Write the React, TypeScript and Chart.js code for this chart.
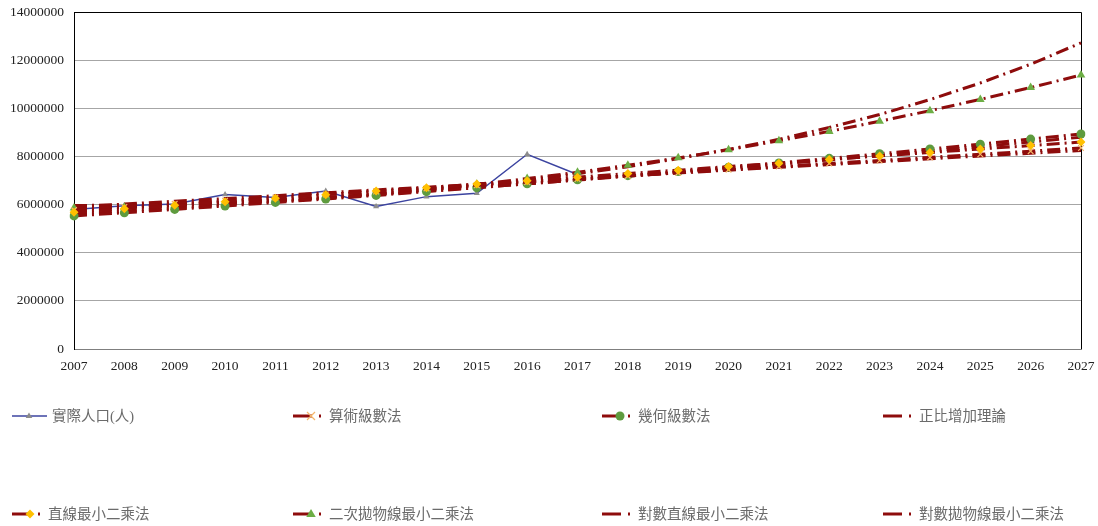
import React, { useEffect, useRef } from 'react';
import { Chart, registerables } from 'chart.js';

Chart.register(...registerables);

const years = ['2007','2008','2009','2010','2011','2012','2013','2014','2015','2016','2017','2018','2019','2020','2021','2022','2023','2024','2025','2026','2027'];

const actualPop = [5800000, 5950000, 6020000, 6420000, 6290000, 6560000, 5920000, 6330000, 6470000, 8090000, 7250000, null, null, null, null, null, null, null, null, null, null];
const arithmetic = [5770000, 5900000, 6030000, 6160000, 6290000, 6420000, 6540000, 6670000, 6800000, 6930000, 7060000, 7190000, 7320000, 7450000, 7580000, 7710000, 7830000, 7960000, 8090000, 8220000, 8350000];
const geometric = [5530000, 5660000, 5800000, 5940000, 6090000, 6230000, 6380000, 6540000, 6700000, 6860000, 7030000, 7200000, 7370000, 7550000, 7730000, 7920000, 8110000, 8310000, 8510000, 8720000, 8930000];
const proportional = [5900000, 6020000, 6140000, 6250000, 6370000, 6490000, 6610000, 6720000, 6840000, 6960000, 7080000, 7190000, 7310000, 7430000, 7550000, 7660000, 7780000, 7900000, 8020000, 8130000, 8250000];
const linearLS = [5680000, 5830000, 5970000, 6120000, 6260000, 6410000, 6560000, 6700000, 6850000, 6990000, 7140000, 7290000, 7430000, 7580000, 7720000, 7870000, 8020000, 8160000, 8310000, 8450000, 8600000];
const quadraticLS = [5860000, 5890000, 5950000, 6040000, 6150000, 6280000, 6440000, 6630000, 6840000, 7080000, 7340000, 7630000, 7940000, 8280000, 8650000, 9040000, 9460000, 9900000, 10370000, 10860000, 11380000];
const logLinearLS = [5600000, 5730000, 5860000, 5990000, 6130000, 6270000, 6410000, 6560000, 6710000, 6860000, 7020000, 7180000, 7340000, 7510000, 7680000, 7860000, 8040000, 8220000, 8410000, 8600000, 8800000];
const logParabolaLS = [5960000, 5980000, 6030000, 6090000, 6180000, 6300000, 6430000, 6600000, 6790000, 7020000, 7280000, 7570000, 7910000, 8290000, 8710000, 9200000, 9740000, 10360000, 11050000, 11830000, 12720000];

const seriesNames = ['實際人口(人)', '算術級數法', '幾何級數法', '正比增加理論', '直線最小二乘法', '二次拋物線最小二乘法', '對數直線最小二乘法', '對數拋物線最小二乘法'];
const yTicks = [0, 2000000, 4000000, 6000000, 8000000, 10000000, 12000000, 14000000];

const RED = '#8E0C0C';
const BLUE = '#3C44A0';
const DASH = [13, 5, 2, 5];
const SERIF = '"Liberation Serif", "Times New Roman", "Noto Sans CJK TC", serif';
const LEGEND_FONT = '"Liberation Serif", "Noto Sans CJK TC", serif';

type Mk = { style: string; r: number; fill: string; stroke: string };
const markers: Mk[] = [
  { style: 'triangle', r: 3.5, fill: '#8C8C8C', stroke: '#8C8C8C' },
  { style: 'crossRot', r: 4, fill: '#F5B66A', stroke: '#F5B66A' },
  { style: 'circle', r: 4.5, fill: '#5E9B3E', stroke: '#5E9B3E' },
  { style: 'none', r: 0, fill: RED, stroke: RED },
  { style: 'rectRot', r: 4.5, fill: '#FFC000', stroke: '#FFC000' },
  { style: 'triangle', r: 5, fill: '#6DAE45', stroke: '#6DAE45' },
  { style: 'none', r: 0, fill: RED, stroke: RED },
  { style: 'none', r: 0, fill: RED, stroke: RED },
];

function drawMarker(ctx: CanvasRenderingContext2D, m: Mk, x: number, y: number) {
  if (m.style === 'none') return;
  const r = m.r;
  ctx.save();
  ctx.fillStyle = m.fill;
  ctx.strokeStyle = m.stroke;
  ctx.lineWidth = 1.2;
  ctx.beginPath();
  if (m.style === 'circle') {
    ctx.arc(x, y, r, 0, Math.PI * 2);
    ctx.fill();
  } else if (m.style === 'triangle') {
    ctx.moveTo(x, y - r);
    ctx.lineTo(x + r * 0.95, y + r * 0.6);
    ctx.lineTo(x - r * 0.95, y + r * 0.6);
    ctx.closePath();
    ctx.fill();
  } else if (m.style === 'rectRot') {
    ctx.moveTo(x, y - r);
    ctx.lineTo(x + r, y);
    ctx.lineTo(x, y + r);
    ctx.lineTo(x - r, y);
    ctx.closePath();
    ctx.fill();
  } else if (m.style === 'crossRot') {
    ctx.moveTo(x - r, y - r);
    ctx.lineTo(x + r, y + r);
    ctx.moveTo(x + r, y - r);
    ctx.lineTo(x - r, y + r);
    ctx.stroke();
  }
  ctx.restore();
}

const legendCols = [12, 293, 602, 883];
const legendRows = [416, 514];

const legendPlugin = {
  id: 'customLegend',
  afterDraw(chart: any) {
    const ctx: CanvasRenderingContext2D = chart.ctx;
    ctx.save();
    ctx.font = `14.5px ${LEGEND_FONT}`;
    ctx.textBaseline = 'middle';
    ctx.textAlign = 'left';
    seriesNames.forEach((name, i) => {
      const x0 = legendCols[i % 4];
      const y = legendRows[Math.floor(i / 4)];
      if (i === 0) {
        ctx.strokeStyle = BLUE;
        ctx.lineWidth = 1.5;
        ctx.beginPath();
        ctx.moveTo(x0, y);
        ctx.lineTo(x0 + 35, y);
        ctx.stroke();
        drawMarker(ctx, markers[0], x0 + 17, y);
        ctx.fillStyle = '#6B6B6B';
        ctx.fillText(name, x0 + 40, y + 1);
      } else {
        ctx.strokeStyle = RED;
        ctx.lineWidth = 3;
        ctx.beginPath();
        ctx.moveTo(x0, y);
        ctx.lineTo(x0 + 19, y);
        ctx.stroke();
        drawMarker(ctx, markers[i], x0 + 18, y);
        ctx.fillStyle = RED;
        ctx.fillRect(x0 + 26, y - 1.5, 2, 3);
        ctx.fillStyle = '#6B6B6B';
        ctx.fillText(name, x0 + 36, y + 1);
      }
    });
    ctx.restore();
  },
};

const framePlugin = {
  id: 'frame',
  beforeDatasetsDraw(chart: any) {
    const { left, top, right, bottom } = chart.chartArea;
    const ctx: CanvasRenderingContext2D = chart.ctx;
    ctx.save();
    ctx.strokeStyle = '#000';
    ctx.lineWidth = 1;
    ctx.beginPath();
    ctx.moveTo(Math.round(left) + 0.5, bottom);
    ctx.lineTo(Math.round(left) + 0.5, Math.round(top) + 0.5);
    ctx.lineTo(Math.round(right) + 0.5, Math.round(top) + 0.5);
    ctx.lineTo(Math.round(right) + 0.5, bottom);
    ctx.stroke();
    ctx.restore();
  },
};

function modelDataset(label: string, data: number[], mk: Mk, order: number) {
  return {
    label,
    data,
    borderColor: RED,
    backgroundColor: mk.fill,
    borderWidth: 3,
    borderDash: DASH,
    borderCapStyle: 'butt' as const,
    pointStyle: mk.style === 'none' ? 'circle' : mk.style,
    pointRadius: mk.r,
    pointBackgroundColor: mk.fill,
    pointBorderColor: mk.stroke,
    pointBorderWidth: mk.style === 'crossRot' ? 1.2 : 0,
    tension: 0,
    fill: false,
    order,
  };
}

export default function App() {
  const ref = useRef<HTMLCanvasElement>(null);
  useEffect(() => {
    if (!ref.current) return;
    const chart = new Chart(ref.current, {
      type: 'line',
      data: {
        labels: years,
        datasets: [
          {
            label: seriesNames[0],
            data: actualPop,
            borderColor: BLUE,
            backgroundColor: markers[0].fill,
            borderWidth: 1.5,
            pointStyle: 'triangle',
            pointRadius: markers[0].r,
            pointBackgroundColor: markers[0].fill,
            pointBorderColor: markers[0].stroke,
            pointBorderWidth: 0,
            tension: 0,
            fill: false,
            spanGaps: false,
            order: 9,
          },
          modelDataset(seriesNames[1], arithmetic, markers[1], 2),
          modelDataset(seriesNames[2], geometric, markers[2], 3),
          modelDataset(seriesNames[3], proportional, markers[3], 6),
          modelDataset(seriesNames[4], linearLS, markers[4], 1),
          modelDataset(seriesNames[5], quadraticLS, markers[5], 4),
          modelDataset(seriesNames[6], logLinearLS, markers[6], 7),
          modelDataset(seriesNames[7], logParabolaLS, markers[7], 8),
        ] as any,
      },
      options: {
        responsive: false,
        animation: false,
        layout: { padding: { left: 0, right: 17, top: 12, bottom: 147 } },
        plugins: {
          legend: { display: false },
          tooltip: { enabled: false },
        },
        scales: {
          x: {
            type: 'category',
            offset: false,
            grid: { display: false, drawTicks: false },
            border: { color: '#7F7F7F', width: 1 },
            ticks: {
              font: { family: SERIF, size: 13.5 },
              color: '#222',
              padding: 9,
              maxRotation: 0,
              autoSkip: false,
            },
            afterFit(s: any) { s.height = 30; s.paddingLeft = 0; s.paddingRight = 0; },
          },
          y: {
            min: 0,
            max: 14000000,
            grid: { color: '#A6A6A6', drawTicks: false },
            border: { color: '#000', width: 1 },
            afterBuildTicks(s: any) { s.ticks = yTicks.map((v) => ({ value: v })); },
            ticks: {
              padding: 10,
              font: { family: SERIF, size: 13.5 },
              color: '#222',
              callback: (v: any) => String(v),
            },
            afterFit(s: any) { s.width = 74; s.paddingTop = 0; s.paddingBottom = 0; },
          },
        },
      } as any,
      plugins: [framePlugin, legendPlugin],
    });
    return () => chart.destroy();
  }, []);
  return (
    <div style={{ position: 'absolute', left: 0, top: 0, width: 1098, height: 526, background: '#fff' }}>
      <canvas ref={ref} width={1098} height={526} style={{ display: 'block', width: 1098, height: 526 }} />
    </div>
  );
}
